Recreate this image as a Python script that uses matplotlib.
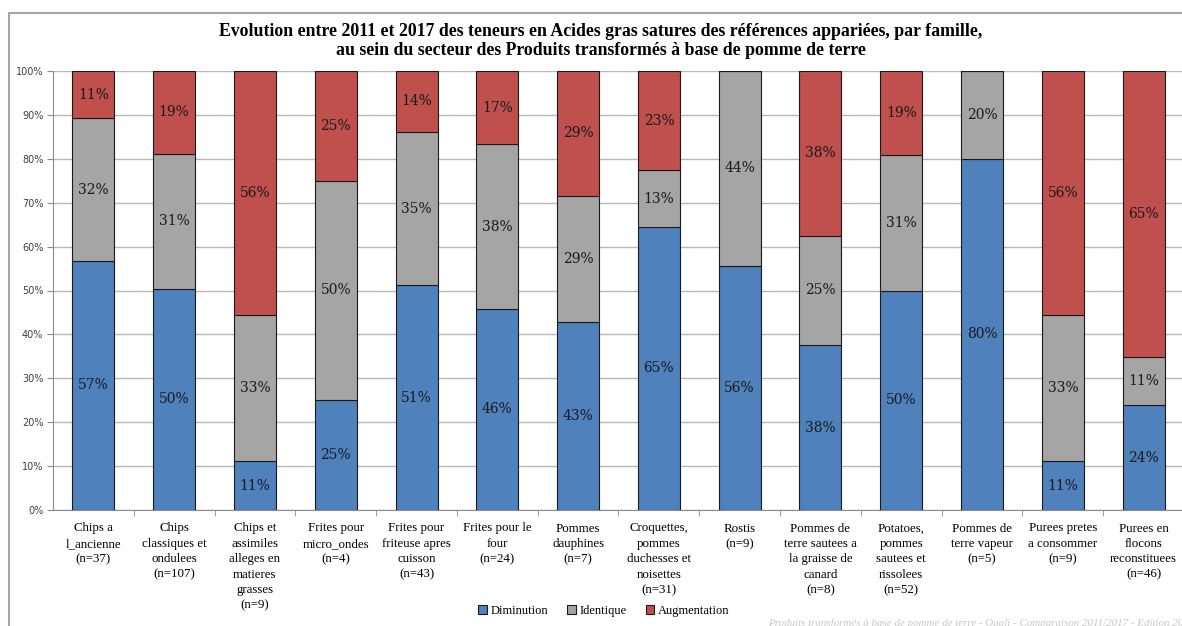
import matplotlib
matplotlib.use("Agg")
import matplotlib.pyplot as plt
from matplotlib.patches import Rectangle
import numpy as np

# categories (x labels)
categories = [
    "Chips a\nl_ancienne\n(n=37)",
    "Chips\nclassiques et\nondulees\n(n=107)",
    "Chips et\nassimiles\nalleges en\nmatieres\ngrasses\n(n=9)",
    "Frites pour\nmicro_ondes\n(n=4)",
    "Frites pour\nfriteuse apres\ncuisson\n(n=43)",
    "Frites pour le\nfour\n(n=24)",
    "Pommes\ndauphines\n(n=7)",
    "Croquettes,\npommes\nduchesses et\nnoisettes\n(n=31)",
    "Rostis\n(n=9)",
    "Pommes de\nterre sautees a\nla graisse de\ncanard\n(n=8)",
    "Potatoes,\npommes\nsautees et\nrissolees\n(n=52)",
    "Pommes de\nterre vapeur\n(n=5)",
    "Purees pretes\na consommer\n(n=9)",
    "Purees en\nflocons\nreconstituees\n(n=46)",
]

# shares in %
diminution = [56.8, 50.4, 11.1, 25.0, 51.2, 45.8, 42.9, 64.5, 55.6, 37.5, 50.0, 80.0, 11.1, 23.9]
identique = [32.4, 30.8, 33.3, 50.0, 34.9, 37.5, 28.6, 12.9, 44.4, 25.0, 30.8, 20.0, 33.3, 10.9]
augmentation = [10.8, 18.7, 55.6, 25.0, 14.0, 16.7, 28.6, 22.6, 0.0, 37.5, 19.2, 0.0, 55.6, 65.2]

series_names = ["Diminution", "Identique", "Augmentation"]
colors = ["#4F81BD", "#A5A5A5", "#C0504D"]

W, H = 1182, 626
fig = plt.figure(figsize=(W / 100, H / 100), dpi=100)

# cadre du graphique (coupe a droite et en bas)
fig.patches.append(Rectangle((9 / W, -0.1), 1.2, 1 - 13 / H + 0.1,
                             transform=fig.transFigure, fill=False,
                             edgecolor="#a6a6a6", linewidth=1.5))

ax = fig.add_axes([53 / W, (H - 510) / H, (1184 - 53) / W, 439 / H])

x = np.arange(len(categories))
bottom = np.zeros(len(categories))
for vals, name, col in zip([diminution, identique, augmentation], series_names, colors):
    vals = np.array(vals)
    ax.bar(x, vals, width=0.52, bottom=bottom, color=col,
           edgecolor="#1a1a1a", linewidth=0.8, label=name, zorder=3)
    for xi, b, v in zip(x, bottom, vals):
        if v > 0:
            ax.text(xi, b + v / 2, f"{int(v + 0.5)}%", ha="center", va="center",
                    fontsize=10, family="DejaVu Serif", color="#1a1a1a", zorder=4)
    bottom += vals

ax.set_xlim(-0.5, len(categories) - 0.5)
ax.set_ylim(0, 100)
ax.set_yticks(np.arange(0, 101, 10))
ax.set_yticklabels([f"{v}%" for v in range(0, 101, 10)], fontsize=7,
                   family="DejaVu Sans", color="#404040")
ax.yaxis.grid(True, color="#b8b8b8", linewidth=1.0, zorder=0)
ax.set_axisbelow(True)

ax.set_xticks(x)
ax.set_xticklabels(categories, fontsize=9.3, family="Liberation Serif",
                   linespacing=1.38, va="top")
ax.set_xticks(np.arange(0.5, len(categories) - 0.5, 1), minor=True)
ax.tick_params(axis="x", which="major", length=0, pad=9)
ax.tick_params(axis="x", which="minor", length=4, color="#8c8c8c")
ax.tick_params(axis="y", length=4, color="#8c8c8c", pad=3)

for s in ["top", "right"]:
    ax.spines[s].set_visible(False)
ax.spines["left"].set_color("#8c8c8c")
ax.spines["bottom"].set_color("#8c8c8c")

fig.text(601 / W, 1 - 41 / H,
         "Evolution entre 2011 et 2017 des teneurs en Acides gras satures des références appariées, par famille,\n"
         "au sein du secteur des Produits transformés à base de pomme de terre",
         ha="center", va="center", fontsize=12.8, fontweight="bold",
         family="Liberation Serif", linespacing=1.15)

fig.legend(loc="center", bbox_to_anchor=(604 / W, 1 - 611 / H), ncol=3,
           frameon=False, prop={"family": "Liberation Serif", "size": 9},
           handlelength=0.7, handleheight=0.7, handletextpad=0.3,
           columnspacing=1.5)

fig.text(768 / W, 1 - 623 / H,
         "Produits transformés à base de pomme de terre - Oqali - Comparaison 2011/2017 - Edition 20",
         ha="left", va="center", fontsize=7.9, style="italic",
         family="Liberation Serif", color="#c8c8c8")

fig.savefig("out.png", dpi=100)
